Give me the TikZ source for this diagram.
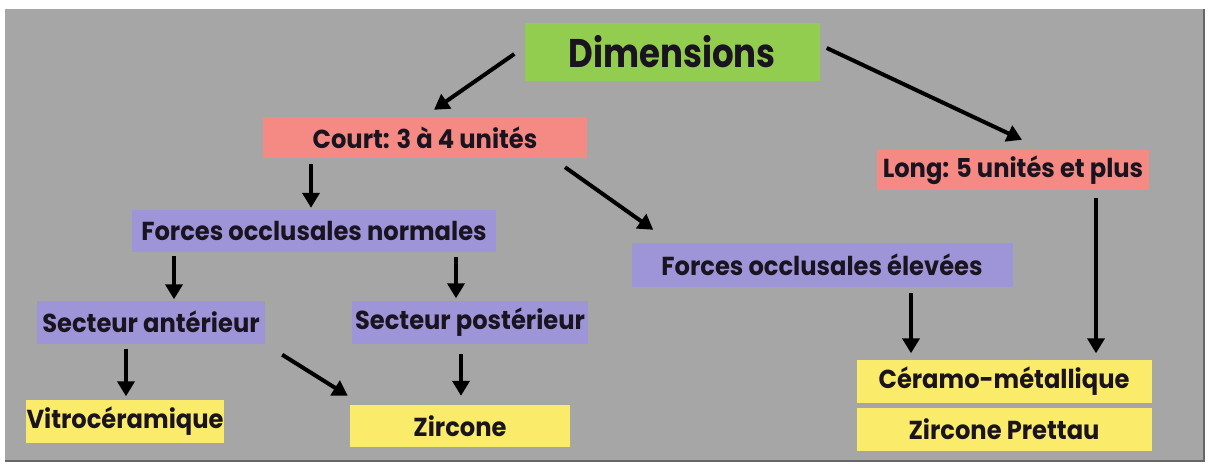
\documentclass[tikz,border=0pt]{standalone}
\usepackage{fontspec}
\newfontfamily\pf{Poppins}[FakeStretch=0.93]
\newfontfamily\pfd{Poppins}[FakeStretch=0.85]
\usetikzlibrary{arrows.meta,calc}
\definecolor{bggray}{HTML}{A6A6A6}
\definecolor{boxgreen}{HTML}{92CD50}
\definecolor{boxred}{HTML}{F58A84}
\definecolor{boxpurple}{HTML}{9E95D8}
\definecolor{boxyellow}{HTML}{FAEB6A}
\definecolor{txt}{HTML}{1A1420}
\tikzset{
  box/.style={inner sep=0pt, align=center, text=txt, font=\pf\bfseries\fontsize{26}{29}\selectfont},
  greenbox/.style={box, fill=boxgreen},
  redbox/.style={box, fill=boxred},
  purplebox/.style={box, fill=boxpurple},
  yellowbox/.style={box, fill=boxyellow},
  arr/.style={line width=4pt, draw=black, -{Triangle[length=15pt,width=17pt]}}
}
\begin{document}
\begin{tikzpicture}[x=1pt,y=-1pt]
\useasboundingbox (0,0) rectangle (1209,463);
\fill[white] (0,0) rectangle (1209,463);
\fill[bggray] (5,9) rectangle (1204,461);
\draw[black!60, line width=1.5pt] (5,461) -- (1204,461) -- (1204,9);

\node[greenbox, minimum width=295pt, minimum height=58pt, font=\pfd\bfseries\fontsize{40}{44}\selectfont] (dim) at (672,52) {Dimensions};
\node[redbox, minimum width=324pt, minimum height=41pt] (court) at (425,137.5) {Court: 3 à 4 unités};
\node[redbox, minimum width=272pt, minimum height=40pt] (long) at (1013,170) {Long: 5 unités et plus};
\node[purplebox, minimum width=364pt, minimum height=42pt] (fon) at (314,231) {Forces occlusales normales};
\node[purplebox, minimum width=381pt, minimum height=44pt] (foe) at (822,265) {Forces occlusales élevées};
\node[purplebox, minimum width=228pt, minimum height=43pt] (sa) at (151,322) {Secteur antérieur};
\node[purplebox, minimum width=236pt, minimum height=43pt] (sp) at (470,322) {Secteur postérieur};
\node[yellowbox, minimum width=198pt, minimum height=43pt] (vit) at (125,421) {Vitrocéramique};
\node[yellowbox, minimum width=220pt, minimum height=42pt] (zir) at (460,426) {Zircone};
\node[yellowbox, minimum width=295pt, minimum height=43pt] (cer) at (1004,381) {Céramo-métallique};
\node[yellowbox, minimum width=295pt, minimum height=43pt] (zp) at (1004,429) {Zircone Prettau};

\draw[arr] ($(dim.west)+(-10,2)$) -- ($(court.north)+(9,-7)$);
\draw[arr] ($(dim.east)+(7,-4)$) -- ($(long.north)+(9,-10)$);
\draw[arr] ($(court.south)+(-114,6)$) -- ($(fon.north)+(-3,-2)$);
\draw[arr] ($(court.south)+(140,9)$) -- ($(foe.north west)+(22,-13)$);
\draw[arr] ($(fon.south)+(-140,4)$) -- ($(sa.north)+(23,-1)$);
\draw[arr] ($(fon.south)+(142,5)$) -- ($(sp.north)+(-14,-2)$);
\draw[arr] ($(sa.south)+(-25,5)$) -- ($(vit.north)+(1,-3)$);
\draw[arr] ($(sa.south east)+(17,11)$) -- ($(zir.north west)+(-2,-9)$);
\draw[arr] ($(sp.south)+(-9,10)$) -- ($(zir.north)+(1,-9)$);
\draw[arr] ($(foe.south)+(89,6)$) -- ($(cer.north)+(-93,-6)$);
\draw[arr] ($(long.south)+(83,8)$) -- ($(cer.north)+(92,-6)$);
\end{tikzpicture}
\end{document}
